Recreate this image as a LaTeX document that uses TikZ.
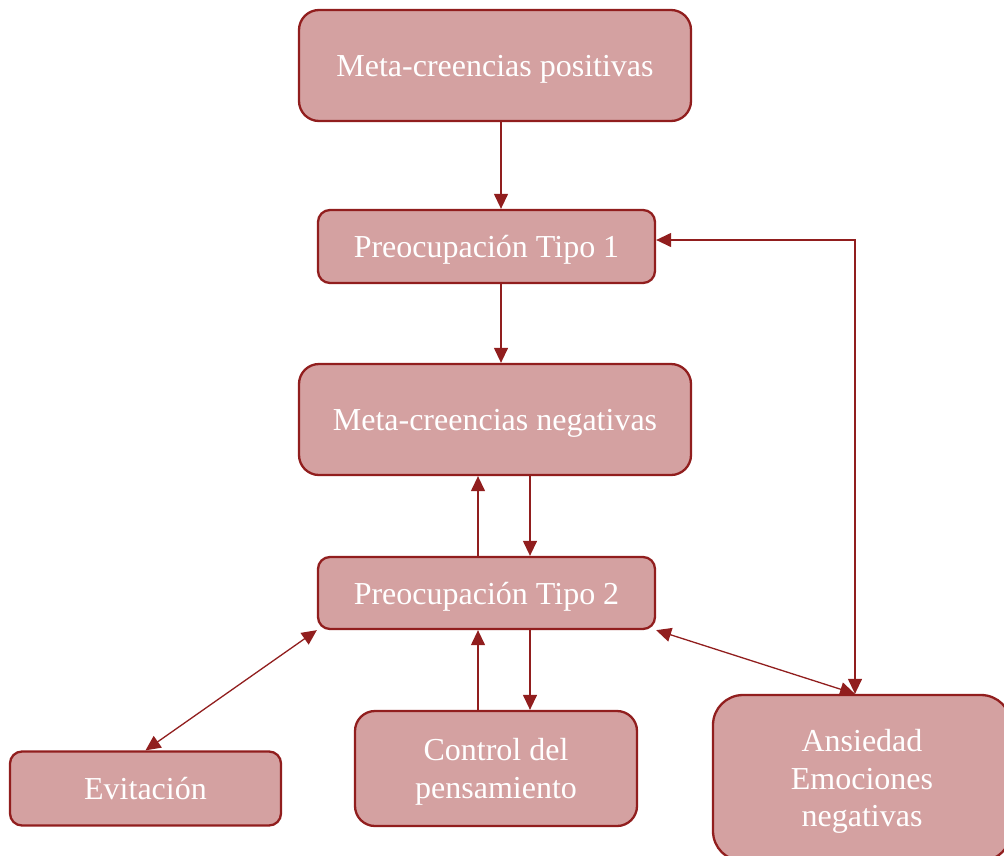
\documentclass[tikz,border=0pt]{standalone}
\usepackage{fontspec}
\setmainfont{Liberation Serif}
\usetikzlibrary{arrows.meta}
\definecolor{boxfill}{RGB}{212,161,161}
\definecolor{boxline}{RGB}{145,30,30}
\begin{document}
\begin{tikzpicture}[x=1pt,y=-1pt,
  box/.style={draw=boxline, fill=boxfill, line width=2.3pt, text=white,
    inner sep=0pt, align=center, text depth=0pt,
    font=\fontsize{32}{37.5}\selectfont},
  arr/.style={draw=boxline, line width=1.3pt,
    -{Triangle[length=15pt,width=14pt]}},
  darr/.style={draw=boxline, line width=1.3pt,
    {Triangle[length=15pt,width=14pt]}-{Triangle[length=15pt,width=14pt]}}
]
\useasboundingbox (0,0) rectangle (1004,855);
\clip (0,0) rectangle (1004,855);

% boxes
\node[box, minimum width=392pt, minimum height=111pt, rounded corners=20pt]
  (mp) at (495,65.5) {Meta-creencias positivas};
\node[box, minimum width=337pt, minimum height=73pt, rounded corners=12pt]
  (t1) at (486.5,246.5) {Preocupación Tipo 1};
\node[box, minimum width=392pt, minimum height=111pt, rounded corners=20pt]
  (mn) at (495,419.5) {Meta-creencias negativas};
\node[box, minimum width=337pt, minimum height=72pt, rounded corners=12pt]
  (t2) at (486.5,593) {Preocupación Tipo 2};
\node[box, minimum width=271pt, minimum height=74pt, rounded corners=12pt]
  (ev) at (145.5,788.5) {Evitación};
\node[box, minimum width=282pt, minimum height=115pt, rounded corners=20pt]
  (cp) at (496,768.5) {Control del\\pensamiento};
\node[box, minimum width=298pt, minimum height=166pt, rounded corners=30pt]
  (an) at (862,778) {Ansiedad\\Emociones\\negativas};

% connectors
\draw[arr] ([xshift=6pt]mp.south) -- ([xshift=14.5pt]t1.north);
\draw[arr] ([xshift=14.5pt]t1.south) -- ([xshift=6pt]mn.south |- mn.north);
\draw[arr] ([xshift=-8.5pt]t2.north) -- ([xshift=-8.5pt]t2.north |- mn.south);
\draw[arr] ([xshift=43.5pt]t2.north |- mn.south) -- ([xshift=43.5pt]t2.north);
\draw[arr] ([xshift=-18pt]cp.north) -- ([xshift=-18pt]cp.north |- t2.south);
\draw[arr] ([xshift=34pt]cp.north |- t2.south) -- ([xshift=34pt]cp.north);
\draw[darr] (t2.south west) -- (ev.north);
\draw[darr] (t2.south east) -- ([xshift=-7pt]an.north);
\draw[darr] ([yshift=6.5pt]t1.east) -| ([xshift=-7pt]an.north);
\end{tikzpicture}
\end{document}
